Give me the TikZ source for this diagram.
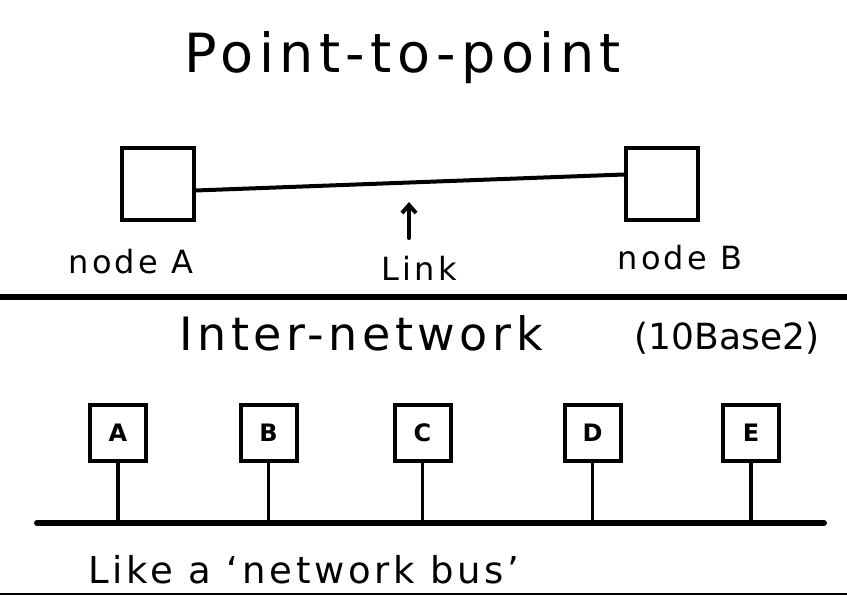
\documentclass[tikz,border=0pt]{standalone}
\usepackage{fontspec}
\setmainfont{DejaVu Sans}
\newfontfamily\handfont[LetterSpace=10, Ligatures=TeX]{DejaVu Sans}
\usepackage{tikz}
\usetikzlibrary{positioning}
\usetikzlibrary{arrows.meta}
\tikzset{host/.style={draw, line width=4pt, minimum size=72pt, inner sep=0pt}}
\tikzset{station/.style={draw, line width=4pt, minimum size=56pt, inner sep=0pt, font=\fontsize{24}{24}\selectfont\bfseries}}
\tikzset{hand/.style={inner sep=0pt, font=\handfont\fontsize{32}{32}\selectfont}}
\tikzset{heading/.style={inner sep=0pt, font=\handfont\fontsize{54}{54}\selectfont}}
\tikzset{wire/.style={line width=4pt, line cap=round}}
\tikzset{rule/.style={line width=6pt}}

\begin{document}
\begin{tikzpicture}[x=1pt, y=-1pt]
\useasboundingbox (0,0) rectangle (847,596);
\node[heading] (title) at (403,58) {Point-to-point};
\node[host] (hA) at (157.5,184.5) {};
\node[host] (hB) at (662,184.5) {};
\draw[wire] ([yshift=-6pt]hA.east) -- ([yshift=10pt]hB.west);
\node[hand] (labA) at (131,262) {node A};
\node[hand] (labB) at (680,258) {node B};
\node[hand] (link) at (419,268) {Link};
\coordinate (tail) at (409,238);
\coordinate (tip) at (409,202);
\draw[wire, -{Straight Barb[length=8pt, width=14pt]}] (tail) -- (tip);
\coordinate (divL) at (0,297);
\coordinate (divR) at (847,297);
\draw[rule] (divL) -- (divR);
\node[heading, font=\handfont\fontsize{46}{46}\selectfont] (inet) at (361,333) {Inter-network};
\node[heading, font=\fontsize{36}{36}\selectfont] (base) at (727,338) {(10Base2)};
\node[station] (sA) at (118,433) {A};
\node[station] (sB) at (268.5,433) {B};
\node[station] (sC) at (422.5,433) {C};
\node[station] (sD) at (592.5,433) {D};
\node[station] (sE) at (751,433) {E};
\coordinate (busL) at (37,523);
\coordinate (busR) at (824,523);
\draw[rule, line cap=round] (busL) -- (busR);
\foreach \s in {sA,sB,sC,sD,sE}
  \draw[line width=3.5pt] (\s.south) -- (\s.south |- busL);
\node[hand, font=\handfont\fontsize{37}{37}\selectfont] (busnote) at (304,570) {Like a `network bus'};
\coordinate (botL) at (0,594);
\coordinate (botR) at (847,594);
\draw[line width=2pt] (botL) -- (botR);
\end{tikzpicture}
\end{document}
